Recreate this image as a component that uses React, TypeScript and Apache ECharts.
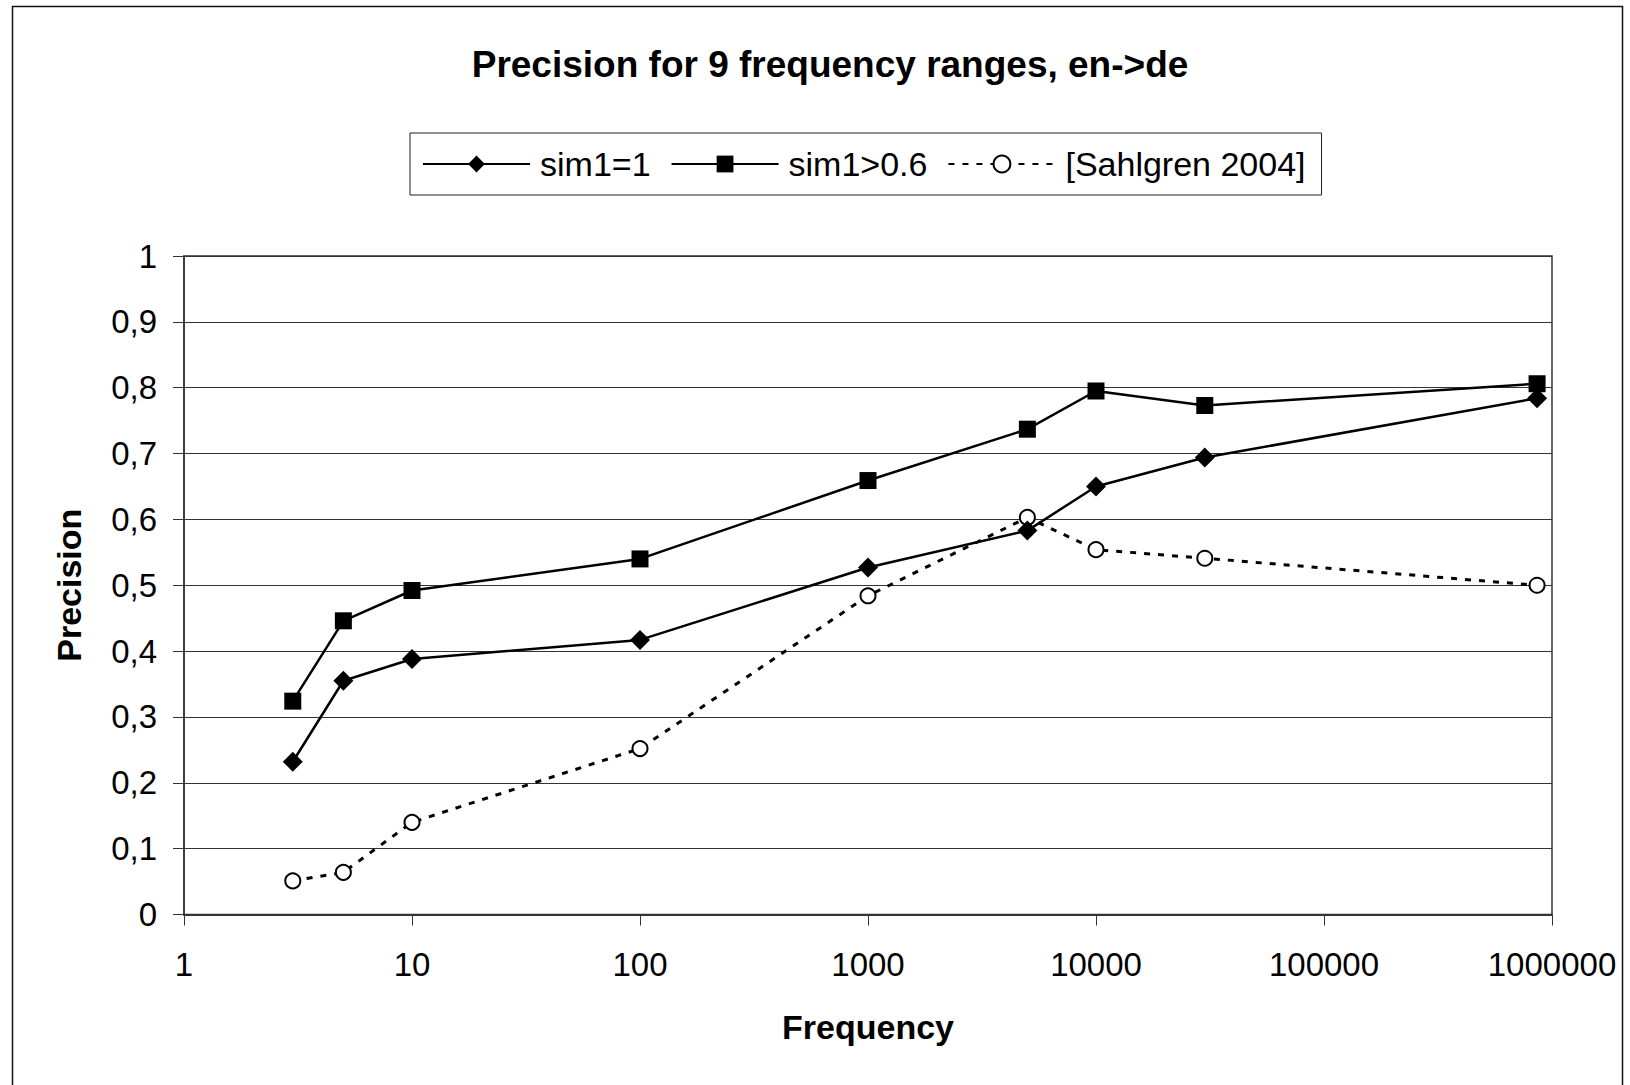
import React, { useEffect, useRef } from "react";
import * as echarts from "echarts";

const TITLE = "Precision for 9 frequency ranges, en->de";
const SERIES_NAMES = ["sim1=1", "sim1>0.6", "[Sahlgren 2004]"];
const frequencies = [3, 5, 10, 100, 1000, 5000, 10000, 30000, 860000];
const sim1Eq1 = [0.232, 0.355, 0.388, 0.417, 0.527, 0.583, 0.65, 0.694, 0.784];
const sim1Gt06 = [0.324, 0.446, 0.492, 0.54, 0.659, 0.737, 0.795, 0.773, 0.806];
const sahlgren2004 = [0.051, 0.064, 0.14, 0.252, 0.484, 0.603, 0.554, 0.541, 0.5];
const X_NAME = "Frequency";
const Y_NAME = "Precision";

const FONT = '"Liberation Sans", Arial, sans-serif';

function pairs(xs: number[], ys: number[]) {
  return xs.map((x, i) => [x, ys[i]]);
}

export default function App() {
  const ref = useRef<HTMLDivElement>(null);
  useEffect(() => {
    if (!ref.current) return;
    const chart = echarts.init(ref.current, undefined, { renderer: "svg" });
    const option: any = {
      animation: false,
      backgroundColor: "#fff",
      textStyle: { fontFamily: FONT, color: "#000" },
      title: {
        text: TITLE,
        left: 830,
        top: 46,
        textAlign: "center",
        padding: 0,
        textStyle: { fontFamily: FONT, fontSize: 37, fontWeight: "bold", color: "#000" },
      },
      legend: {
        left: 410,
        top: 133,
        orient: "horizontal",
        padding: [14, 16, 14, 12],
        itemWidth: 107,
        itemHeight: 21,
        itemGap: 20,
        borderColor: "#222",
        borderWidth: 1,
        data: SERIES_NAMES,
        textStyle: { fontFamily: FONT, fontSize: 34, color: "#000", padding: [0, 0, 0, 5] },
      },
      graphic: [
        {
          type: "rect",
          shape: { x: 12.5, y: 6.5, width: 1610, height: 1100 },
          style: { fill: "none", stroke: "#111", lineWidth: 1.5 },
          silent: true,
          z: -10,
        },
      ],
      grid: {
        left: 184,
        right: 78,
        top: 256,
        bottom: 170.5,
        show: true,
        borderColor: "#333",
        borderWidth: 1.5,
        backgroundColor: "transparent",
      },
      xAxis: {
        type: "log",
        logBase: 10,
        min: 1,
        max: 1000000,
        name: X_NAME,
        nameLocation: "middle",
        nameGap: 95,
        nameTextStyle: { fontFamily: FONT, fontSize: 34, fontWeight: "bold", color: "#000" },
        axisLine: { show: true, lineStyle: { color: "#333", width: 2 } },
        axisTick: { show: true, inside: false, length: 11, lineStyle: { color: "#333", width: 1 } },
        minorTick: { show: false },
        splitLine: { show: false },
        axisLabel: {
          margin: 33,
          fontFamily: FONT,
          fontSize: 33,
          color: "#000",
          formatter: (v: number) => String(Math.round(v)),
        },
      },
      yAxis: {
        type: "value",
        min: 0,
        max: 1,
        interval: 0.1,
        name: Y_NAME,
        nameLocation: "middle",
        nameGap: 98,
        nameTextStyle: { fontFamily: FONT, fontSize: 34, fontWeight: "bold", color: "#000" },
        axisLine: { show: true, lineStyle: { color: "#333", width: 1.5 } },
        axisTick: { show: true, inside: false, length: 11, lineStyle: { color: "#333", width: 1 } },
        splitLine: { show: true, lineStyle: { color: "#333", width: 1 } },
        axisLabel: {
          margin: 27,
          fontFamily: FONT,
          fontSize: 33,
          color: "#000",
          formatter: (v: number) => {
            const r = Math.round(v * 10) / 10;
            if (r === 0) return "0";
            if (r === 1) return "1";
            return r.toFixed(1).replace(".", ",");
          },
        },
      },
      series: [
        {
          name: SERIES_NAMES[0],
          type: "line",
          data: pairs(frequencies, sim1Eq1),
          symbol: "diamond",
          symbolSize: 20,
          color: "#000",
          itemStyle: { color: "#000" },
          lineStyle: { color: "#000", width: 2.5 },
          z: 3,
        },
        {
          name: SERIES_NAMES[1],
          type: "line",
          data: pairs(frequencies, sim1Gt06),
          symbol: "rect",
          symbolSize: 17,
          color: "#000",
          itemStyle: { color: "#000" },
          lineStyle: { color: "#000", width: 2.5 },
          z: 3,
        },
        {
          name: SERIES_NAMES[2],
          type: "line",
          data: pairs(frequencies, sahlgren2004),
          symbol: "emptyCircle",
          symbolSize: 15,
          color: "#000",
          itemStyle: { color: "#000", borderWidth: 2.5 },
          lineStyle: { color: "#000", width: 3, type: [6, 8] },
          z: 2,
        },
      ],
    };
    chart.setOption(option);
    return () => chart.dispose();
  }, []);
  return (
    <div
      ref={ref}
      style={{ position: "fixed", left: 0, top: 0, width: 1630, height: 1085, background: "#fff" }}
    />
  );
}
